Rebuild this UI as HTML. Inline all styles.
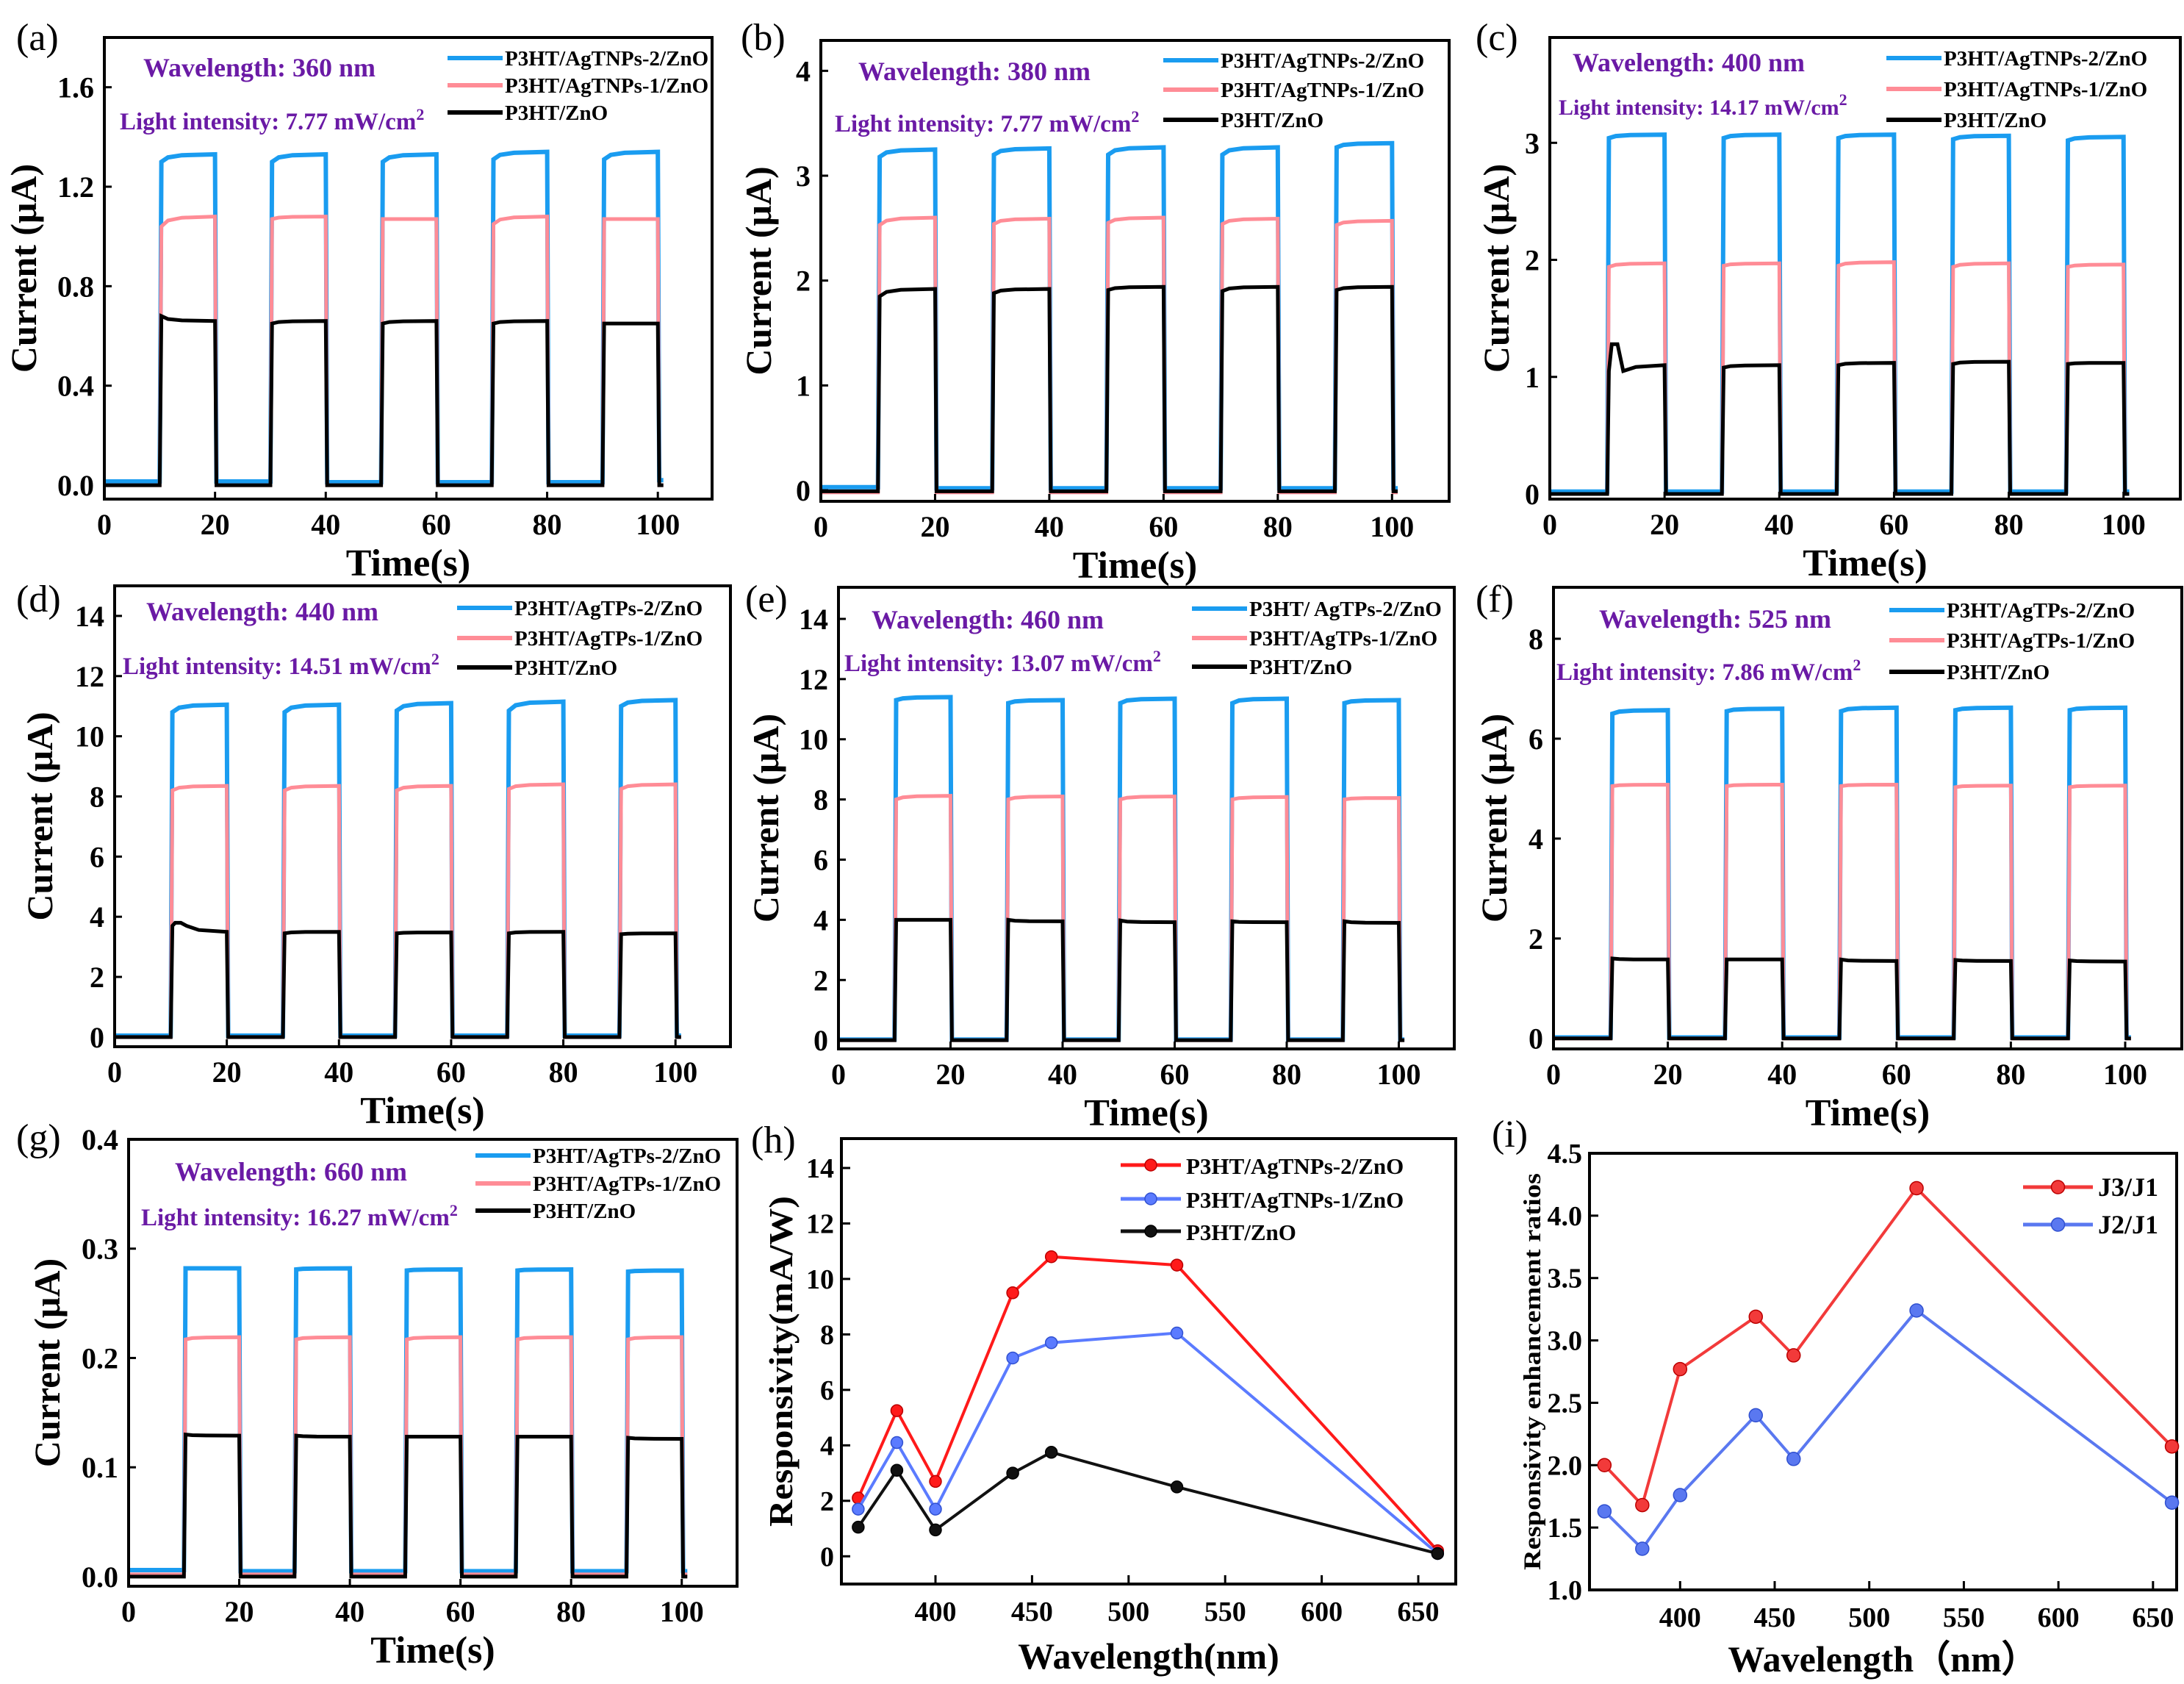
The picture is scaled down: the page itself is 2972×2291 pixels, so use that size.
<!DOCTYPE html>
<html><head><meta charset="utf-8">
<style>
html,body{margin:0;padding:0;background:#fff;}
svg{display:block;}
text{font-family:"Liberation Serif",serif;}
</style></head>
<body>
<svg id="fig" width="2972" height="2291" viewBox="0 0 2972 2291" xmlns="http://www.w3.org/2000/svg">
<rect width="2972" height="2291" fill="#fff"/>
</svg>
<script>
// ---------- shared cycle timing ----------
const onTimes = [10, 30, 50, 70, 90];
const offTimes = [20, 40, 60, 80, 100];
const timeTicks = [0, 20, 40, 60, 80, 100];

// ---------- panel (a) 360 nm ----------
const aBlueStart = [1.30, 1.30, 1.30, 1.31, 1.31];
const aBlueEnd = [1.33, 1.33, 1.33, 1.34, 1.34];
const aBlueBase = [0.015, 0.015, 0.012, 0.012, 0.012, 0.02];
const aPinkStart = [1.04, 1.07, 1.07, 1.05, 1.07];
const aPinkEnd = [1.08, 1.08, 1.07, 1.08, 1.07];
const aPinkBase = [0, 0, 0, 0, 0, 0];
const aBlackStart = [0.68, 0.65, 0.65, 0.65, 0.65];
const aBlackEnd = [0.66, 0.66, 0.66, 0.66, 0.65];
const aBlackBase = [0, 0, 0, 0, 0, 0];
const aYTicks = ["0.0", "0.4", "0.8", "1.2", "1.6"];

// ---------- panel (b) 380 nm ----------
const bBlueStart = [3.18, 3.20, 3.20, 3.20, 3.27];
const bBlueEnd = [3.25, 3.26, 3.27, 3.27, 3.31];
const bBlueBase = [0.03, 0.02, 0.02, 0.02, 0.02, 0.02];
const bPinkStart = [2.53, 2.54, 2.55, 2.54, 2.53];
const bPinkEnd = [2.60, 2.59, 2.60, 2.59, 2.57];
const bPinkBase = [-0.02, -0.02, -0.02, -0.02, -0.02, -0.02];
const bBlackStart = [1.85, 1.88, 1.91, 1.90, 1.91];
const bBlackEnd = [1.92, 1.92, 1.94, 1.94, 1.94];
const bBlackBase = [-0.01, -0.01, -0.01, -0.01, -0.01, -0.01];
const bYTicks = ["0", "1", "2", "3", "4"];

// ---------- panel (c) 400 nm ----------
const cBlueStart = [3.04, 3.04, 3.04, 3.03, 3.02];
const cBlueEnd = [3.07, 3.07, 3.07, 3.06, 3.05];
const cBlueBase = [0.02, 0.02, 0.02, 0.02, 0.02, 0.02];
const cPinkStart = [1.94, 1.95, 1.95, 1.94, 1.94];
const cPinkEnd = [1.97, 1.97, 1.98, 1.97, 1.96];
const cPinkBase = [0, 0, 0, 0, 0, 0];
const cBlackStart = [1.05, 1.08, 1.10, 1.11, 1.11];
const cBlackEnd = [1.10, 1.10, 1.12, 1.13, 1.12];
const cBlackPeak = [1.28, null, null, null, null];
const cBlackBase = [0, 0, 0, 0, 0, 0];
const cYTicks = ["0", "1", "2", "3"];

// ---------- panel (d) 440 nm ----------
const dBlueStart = [10.8, 10.8, 10.85, 10.85, 11.0];
const dBlueEnd = [11.05, 11.05, 11.1, 11.15, 11.2];
const dBlueBase = [0.05, 0.05, 0.05, 0.05, 0.05, 0.05];
const dPinkStart = [8.2, 8.2, 8.2, 8.25, 8.25];
const dPinkEnd = [8.35, 8.35, 8.35, 8.4, 8.4];
const dPinkBase = [0, 0, 0, 0, 0, 0];
const dBlackStart = [3.7, 3.45, 3.45, 3.45, 3.42];
const dBlackEnd = [3.5, 3.5, 3.48, 3.5, 3.45];
const dBlackPeak = [3.8, null, null, null, null];
const dBlackBase = [0, 0, 0, 0, 0, 0];
const dYTicks = ["0", "2", "4", "6", "8", "10", "12", "14"];

// ---------- panel (e) 460 nm ----------
const eBlueStart = [11.3, 11.2, 11.2, 11.2, 11.2];
const eBlueEnd = [11.4, 11.3, 11.35, 11.35, 11.3];
const eBlueBase = [0.02, 0.02, 0.02, 0.02, 0.02, 0.02];
const ePinkStart = [8.0, 8.0, 8.0, 8.0, 8.0];
const ePinkEnd = [8.12, 8.1, 8.1, 8.08, 8.05];
const ePinkBase = [0, 0, 0, 0, 0, 0];
const eBlackStart = [4.0, 4.0, 3.98, 3.95, 3.95];
const eBlackEnd = [4.0, 3.95, 3.92, 3.92, 3.9];
const eBlackBase = [0, 0, 0, 0, 0, 0];
const eYTicks = ["0", "2", "4", "6", "8", "10", "12", "14"];

// ---------- panel (f) 525 nm ----------
const fBlueStart = [6.5, 6.55, 6.55, 6.57, 6.57];
const fBlueEnd = [6.57, 6.6, 6.62, 6.62, 6.62];
const fBlueBase = [0.02, 0.02, 0.02, 0.02, 0.02, 0.02];
const fPinkStart = [5.05, 5.05, 5.05, 5.03, 5.03];
const fPinkEnd = [5.08, 5.08, 5.08, 5.06, 5.06];
const fPinkBase = [0, 0, 0, 0, 0, 0];
const fBlackStart = [1.6, 1.58, 1.58, 1.57, 1.56];
const fBlackEnd = [1.58, 1.58, 1.55, 1.55, 1.54];
const fBlackBase = [0, 0, 0, 0, 0, 0];
const fYTicks = ["0", "2", "4", "6", "8"];

// ---------- panel (g) 660 nm ----------
const gBlueStart = [0.282, 0.281, 0.280, 0.280, 0.279];
const gBlueEnd = [0.282, 0.282, 0.281, 0.281, 0.280];
const gBlueBase = [0.006, 0.005, 0.005, 0.005, 0.005, 0.005];
const gPinkStart = [0.217, 0.217, 0.217, 0.217, 0.217];
const gPinkEnd = [0.219, 0.219, 0.219, 0.219, 0.219];
const gPinkBase = [0.002, 0.002, 0.002, 0.002, 0.002, 0.002];
const gBlackStart = [0.130, 0.129, 0.128, 0.128, 0.127];
const gBlackEnd = [0.129, 0.128, 0.128, 0.128, 0.126];
const gBlackBase = [0, 0, 0, 0, 0, 0];
const gYTicks = ["0.0", "0.1", "0.2", "0.3", "0.4"];

// ---------- panel (h) responsivity ----------
const wavelengths = [360, 380, 400, 440, 460, 525, 660];
const hRed = [2.1, 5.25, 2.7, 9.5, 10.8, 10.5, 0.2];
const hBlue = [1.7, 4.1, 1.7, 7.15, 7.7, 8.05, 0.1];
const hBlack = [1.05, 3.1, 0.95, 3.0, 3.75, 2.5, 0.1];
const hYTicks = ["0", "2", "4", "6", "8", "10", "12", "14"];
const wlTicks = ["400", "450", "500", "550", "600", "650"];

// ---------- panel (i) ratios ----------
const iJ3 = [2.0, 1.68, 2.77, 3.19, 2.88, 4.22, 2.15];
const iJ2 = [1.63, 1.33, 1.76, 2.40, 2.05, 3.24, 1.70];
const iYTicks = ["1.0", "1.5", "2.0", "2.5", "3.0", "3.5", "4.0", "4.5"];

// =================================================
const NS = "http://www.w3.org/2000/svg";
const svg = document.getElementById("fig");
const BLUE = "#1a9cf0", PINK = "#ff8c96", BLACK = "#000", PURPLE = "#6a1aa5";

function mk(tag, attrs, parent) {
  const e = document.createElementNS(NS, tag);
  for (const k in attrs) e.setAttribute(k, attrs[k]);
  (parent || svg).appendChild(e);
  return e;
}
function txt(str, attrs, parent) {
  const t = mk("text", attrs, parent);
  t.textContent = str;
  return t;
}

function frame(g, L, T, R, B, name) {
  const r = mk("rect", {x: L, y: T, width: R - L, height: B - T, fill: "none", stroke: "#000", "stroke-width": 4}, g);
  
  
}

function tsPath(sx, sy, start, end, base, peak) {
  const pts = [[0, base[0]]];
  for (let i = 0; i < onTimes.length; i++) {
    const t0 = onTimes[i], t1 = offTimes[i];
    pts.push([t0, base[i]]);
    pts.push([t0 + 0.3, start[i]]);
    if (peak && peak[i] != null) {
      pts.push([t0 + 0.8, peak[i]], [t0 + 1.8, peak[i]], [t0 + 2.8, start[i]]);
      pts.push([t0 + 5, start[i] + 0.7 * (end[i] - start[i])]);
    } else {
      pts.push([t0 + 1.5, start[i] + 0.6 * (end[i] - start[i])]);
      pts.push([t0 + 4, start[i] + 0.88 * (end[i] - start[i])]);
    }
    pts.push([t1, end[i]]);
    pts.push([t1 + 0.25, base[i + 1]]);
  }
  pts.push([101, base[base.length - 1]]);
  return pts.map((p, k) => (k ? "L" : "M") + sx(p[0]).toFixed(1) + "," + sy(p[1]).toFixed(1)).join(" ");
}

function timePanel(cfg) {
  const g = mk("g", {});
  
  
  const {L, T, R, B} = cfg;
  const sx = v => L + (v - 0) / (cfg.xmax - 0) * (R - L);
  const sy = v => B - (v - cfg.ymin) / (cfg.ymax - cfg.ymin) * (B - T);
  const clipId = "clip" + cfg.id;
  const cp = mk("clipPath", {id: clipId}, g);
  mk("rect", {x: L, y: T, width: R - L, height: B - T}, cp);
  const series = [
    [cfg.blue, BLUE, 6, "blue-series"],
    [cfg.pink, PINK, 5, "pink-series"],
    [cfg.black, BLACK, 5, "black-series"]
  ];
  for (const s of series) {
    const p = mk("path", {d: tsPath(sx, sy, s[0][0], s[0][1], s[0][2], s[0][3]), fill: "none", stroke: s[1], "stroke-width": s[2], "stroke-linejoin": "miter", "clip-path": "url(#" + clipId + ")"}, g);
    
    
  }
  frame(g, L, T, R, B, cfg.id);
  for (const t of timeTicks) {
    const x = sx(t);
    mk("line", {x1: x, y1: B, x2: x, y2: B - 10, stroke: "#000", "stroke-width": 3}, g);
    const tl = txt(String(t), {x: x, y: B + 48, "font-size": 40, "font-weight": "bold", "text-anchor": "middle"}, g);
    
    
  }
  cfg.yticks.forEach(lbl => {
    const y = sy(parseFloat(lbl));
    mk("line", {x1: L, y1: y, x2: L + 10, y2: y, stroke: "#000", "stroke-width": 3}, g);
    const yl = txt(lbl, {x: L - 14, y: y + 14, "font-size": 40, "font-weight": "bold", "text-anchor": "end"}, g);
    
    
  });
  const xt = txt("Time(s)", {x: (L + R) / 2, y: B + 104, "font-size": 52, "font-weight": "bold", "text-anchor": "middle"}, g);
  
  
  const yc = (T + B) / 2;
  const yt = txt("Current (\u03bcA)", {x: 0, y: 0, "font-size": 50, "font-weight": "bold", "text-anchor": "middle", transform: "translate(" + (cfg.ytx + 17) + "," + yc + ") rotate(-90)"}, g);
  
  
  const pl = txt("(" + cfg.id + ")", {x: cfg.plx, y: cfg.ply, "font-size": 52}, g);
  
  
  const w = txt("Wavelength: " + cfg.wl + " nm", {x: L + cfg.wdx, y: T + cfg.wdy + 12, "font-size": 36, "font-weight": "bold", fill: PURPLE}, g);
  
  
  const li = txt("Light intensity: " + cfg.li + " mW/cm", {x: L + cfg.ldx, y: T + cfg.ldy + 12, "font-size": cfg.lfs || 33, "font-weight": "bold", fill: PURPLE}, g);
  const sup = mk("tspan", {dy: -13, "font-size": 22}, li);
  sup.textContent = "2";
  
  
  const legCols = [BLUE, PINK, BLACK];
  cfg.legend.forEach((lab, k) => {
    const y = T + cfg.legDy[k];
    const ln = mk("line", {x1: L + cfg.lgx, y1: y, x2: L + cfg.lgx + 75, y2: y, stroke: legCols[k], "stroke-width": 6}, g);
    
    
    const lt = txt(lab, {x: L + cfg.lgx + 78, y: y + 10, "font-size": 29, "font-weight": "bold"}, g);
    
    
  });
}

const legN = ["P3HT/AgTNPs-2/ZnO", "P3HT/AgTNPs-1/ZnO", "P3HT/ZnO"];
const legT = ["P3HT/AgTPs-2/ZnO", "P3HT/AgTPs-1/ZnO", "P3HT/ZnO"];

timePanel({id: "a", L: 142, T: 51, R: 969, B: 679, xmax: 109.8, ymin: -0.056, ymax: 1.80,
  blue: [aBlueStart, aBlueEnd, aBlueBase], pink: [aPinkStart, aPinkEnd, aPinkBase], black: [aBlackStart, aBlackEnd, aBlackBase],
  yticks: aYTicks, ytx: 32, plx: 22, ply: 68, wl: "360", li: "7.77", wdx: 53, wdy: 41, ldx: 21, ldy: 113,
  legend: legN, lgx: 467, legDy: [28, 65, 102]});
timePanel({id: "b", L: 1117, T: 55, R: 1972, B: 682, xmax: 110, ymin: -0.105, ymax: 4.29,
  blue: [bBlueStart, bBlueEnd, bBlueBase], pink: [bPinkStart, bPinkEnd, bPinkBase], black: [bBlackStart, bBlackEnd, bBlackBase],
  yticks: bYTicks, ytx: 1032, plx: 1008, ply: 68, wl: "380", li: "7.77", wdx: 51, wdy: 42, ldx: 19, ldy: 112,
  legend: legN, lgx: 466, legDy: [27, 67, 108]});
timePanel({id: "c", L: 2109, T: 51, R: 2967, B: 679, xmax: 109.9, ymin: -0.044, ymax: 3.9,
  blue: [cBlueStart, cBlueEnd, cBlueBase], pink: [cPinkStart, cPinkEnd, cPinkBase], black: [cBlackStart, cBlackEnd, cBlackBase, cBlackPeak],
  yticks: cYTicks, ytx: 2036, plx: 2008, ply: 68, wl: "400", li: "14.17", lfs: 30, wdx: 31, wdy: 34, ldx: 12, ldy: 93,
  legend: legN, lgx: 458, legDy: [28, 70, 112]});
timePanel({id: "d", L: 156, T: 797, R: 994, B: 1424, xmax: 109.8, ymin: -0.32, ymax: 15.0,
  blue: [dBlueStart, dBlueEnd, dBlueBase], pink: [dPinkStart, dPinkEnd, dPinkBase], black: [dBlackStart, dBlackEnd, dBlackBase, dBlackPeak],
  yticks: dYTicks, ytx: 54, plx: 22, ply: 832, wl: "440", li: "14.51", wdx: 43, wdy: 35, ldx: 11, ldy: 108,
  legend: legT, lgx: 466, legDy: [30, 71, 111]});
timePanel({id: "e", L: 1141, T: 799, R: 1979, B: 1427, xmax: 109.9, ymin: -0.29, ymax: 15.05,
  blue: [eBlueStart, eBlueEnd, eBlueBase], pink: [ePinkStart, ePinkEnd, ePinkBase], black: [eBlackStart, eBlackEnd, eBlackBase],
  yticks: eYTicks, ytx: 1042, plx: 1014, ply: 832, wl: "460", li: "13.07", wdx: 45, wdy: 44, ldx: 8, ldy: 102,
  legend: ["P3HT/ AgTPs-2/ZnO", "P3HT/AgTPs-1/ZnO", "P3HT/ZnO"], lgx: 481, legDy: [29, 69, 108]});
timePanel({id: "f", L: 2114, T: 799, R: 2969, B: 1427, xmax: 109.9, ymin: -0.21, ymax: 9.03,
  blue: [fBlueStart, fBlueEnd, fBlueBase], pink: [fPinkStart, fPinkEnd, fPinkBase], black: [fBlackStart, fBlackEnd, fBlackBase],
  yticks: fYTicks, ytx: 2033, plx: 2008, ply: 832, wl: "525", li: "7.86", wdx: 62, wdy: 43, ldx: 4, ldy: 114,
  legend: legT, lgx: 457, legDy: [31, 72, 115]});
timePanel({id: "g", L: 175, T: 1550, R: 1003, B: 2158, xmax: 110, ymin: -0.0088, ymax: 0.4,
  blue: [gBlueStart, gBlueEnd, gBlueBase], pink: [gPinkStart, gPinkEnd, gPinkBase], black: [gBlackStart, gBlackEnd, gBlackBase],
  yticks: gYTicks, ytx: 64, plx: 22, ply: 1565, wl: "660", li: "16.27", wdx: 63, wdy: 44, ldx: 17, ldy: 105,
  legend: legT, lgx: 472, legDy: [22, 60, 97]});

function wlPanel(cfg) {
  const g = mk("g", {});
  
  
  const {L, T, R, B} = cfg;
  const sx = v => L + (v - cfg.xmin) / (cfg.xmax - cfg.xmin) * (R - L);
  const sy = v => B - (v - cfg.ymin) / (cfg.ymax - cfg.ymin) * (B - T);
  frame(g, L, T, R, B, cfg.id);
  wlTicks.forEach(lbl => {
    const x = sx(parseFloat(lbl));
    mk("line", {x1: x, y1: B, x2: x, y2: B - 12, stroke: "#000", "stroke-width": 3}, g);
    const tl = txt(lbl, {x: x, y: B + 50, "font-size": 38, "font-weight": "bold", "text-anchor": "middle"}, g);
    
    
  });
  cfg.yticks.forEach(lbl => {
    const y = sy(parseFloat(lbl));
    mk("line", {x1: L, y1: y, x2: L + 12, y2: y, stroke: "#000", "stroke-width": 3}, g);
    const yl = txt(lbl, {x: L - 10, y: y + 13, "font-size": 38, "font-weight": "bold", "text-anchor": "end"}, g);
    
    
  });
  cfg.series.forEach(s => {
    const d = wavelengths.map((w, k) => (k ? "L" : "M") + sx(w).toFixed(1) + "," + sy(s.v[k]).toFixed(1)).join(" ");
    const p = mk("path", {d: d, fill: "none", stroke: s.c, "stroke-width": 4}, g);
    
    
    wavelengths.forEach((w, k) => {
      const c = mk("circle", {cx: sx(w), cy: sy(s.v[k]), r: cfg.mr, fill: s.c, stroke: s.dk, "stroke-width": 1.5}, g);
      
      
    });
  });
  cfg.series.forEach((s, k) => {
    const y = cfg.legY[k];
    mk("line", {x1: cfg.lgx1, y1: y, x2: cfg.lgx2, y2: y, stroke: s.c, "stroke-width": 5}, g);
    const m = mk("circle", {cx: (cfg.lgx1 + cfg.lgx2) / 2, cy: y, r: cfg.mr, fill: s.c, stroke: s.dk, "stroke-width": 1.5}, g);
    
    
    const lt = txt(s.label, {x: cfg.lgtx, y: y + 12, "font-size": cfg.lfs, "font-weight": "bold"}, g);
    
    
  });
  const xt = txt(cfg.xtitle, {x: (L + R) / 2, y: cfg.xty, "font-size": 50, "font-weight": "bold", "text-anchor": "middle"}, g);
  
  
  const yt = txt(cfg.ytitle, {x: 0, y: 0, "font-size": cfg.ytfs, "font-weight": "bold", "text-anchor": "middle", textLength: cfg.ytlen, lengthAdjust: "spacingAndGlyphs", transform: "translate(" + cfg.ytx + "," + cfg.yty + ") rotate(-90)"}, g);
  
  
  const pl = txt("(" + cfg.id + ")", {x: cfg.plx, y: cfg.ply, "font-size": 52}, g);
  
  
}

wlPanel({id: "h", L: 1145, T: 1549, R: 1981, B: 2155, xmin: 351.3, xmax: 669.4, ymin: -1.0, ymax: 15.06,
  yticks: hYTicks, mr: 8,
  series: [
    {n: "agtnps-2", v: hRed, c: "#ff1a1a", dk: "#b00", label: "P3HT/AgTNPs-2/ZnO"},
    {n: "agtnps-1", v: hBlue, c: "#5b7bff", dk: "#3050d0", label: "P3HT/AgTNPs-1/ZnO"},
    {n: "zno", v: hBlack, c: "#111", dk: "#000", label: "P3HT/ZnO"}],
  legY: [1585, 1631, 1675], lgx1: 1525, lgx2: 1607, lgtx: 1614, lfs: 31,
  xtitle: "Wavelength(nm)", xty: 2270, ytitle: "Responsivity(mA/W)", ytfs: 46, ytlen: 450, ytx: 1078, yty: 1852,
  plx: 1022, ply: 1568});
wlPanel({id: "i", L: 2163, T: 1569, R: 2962, B: 2163, xmin: 352.1, xmax: 662.5, ymin: 1.0, ymax: 4.5,
  yticks: iYTicks, mr: 9,
  series: [
    {n: "j3-j1", v: iJ3, c: "#f23a3a", dk: "#b00", label: "J3/J1"},
    {n: "j2-j1", v: iJ2, c: "#5a78f0", dk: "#3050d0", label: "J2/J1"}],
  legY: [1615, 1666], lgx1: 2753, lgx2: 2848, lgtx: 2855, lfs: 36,
  xtitle: "Wavelength\uff08nm\uff09", xty: 2274, ytitle: "Responsivity enhancement ratios", ytfs: 33, ytlen: 540, ytx: 2096, yty: 1866,
  plx: 2030, ply: 1560});
</script>
</body></html>
